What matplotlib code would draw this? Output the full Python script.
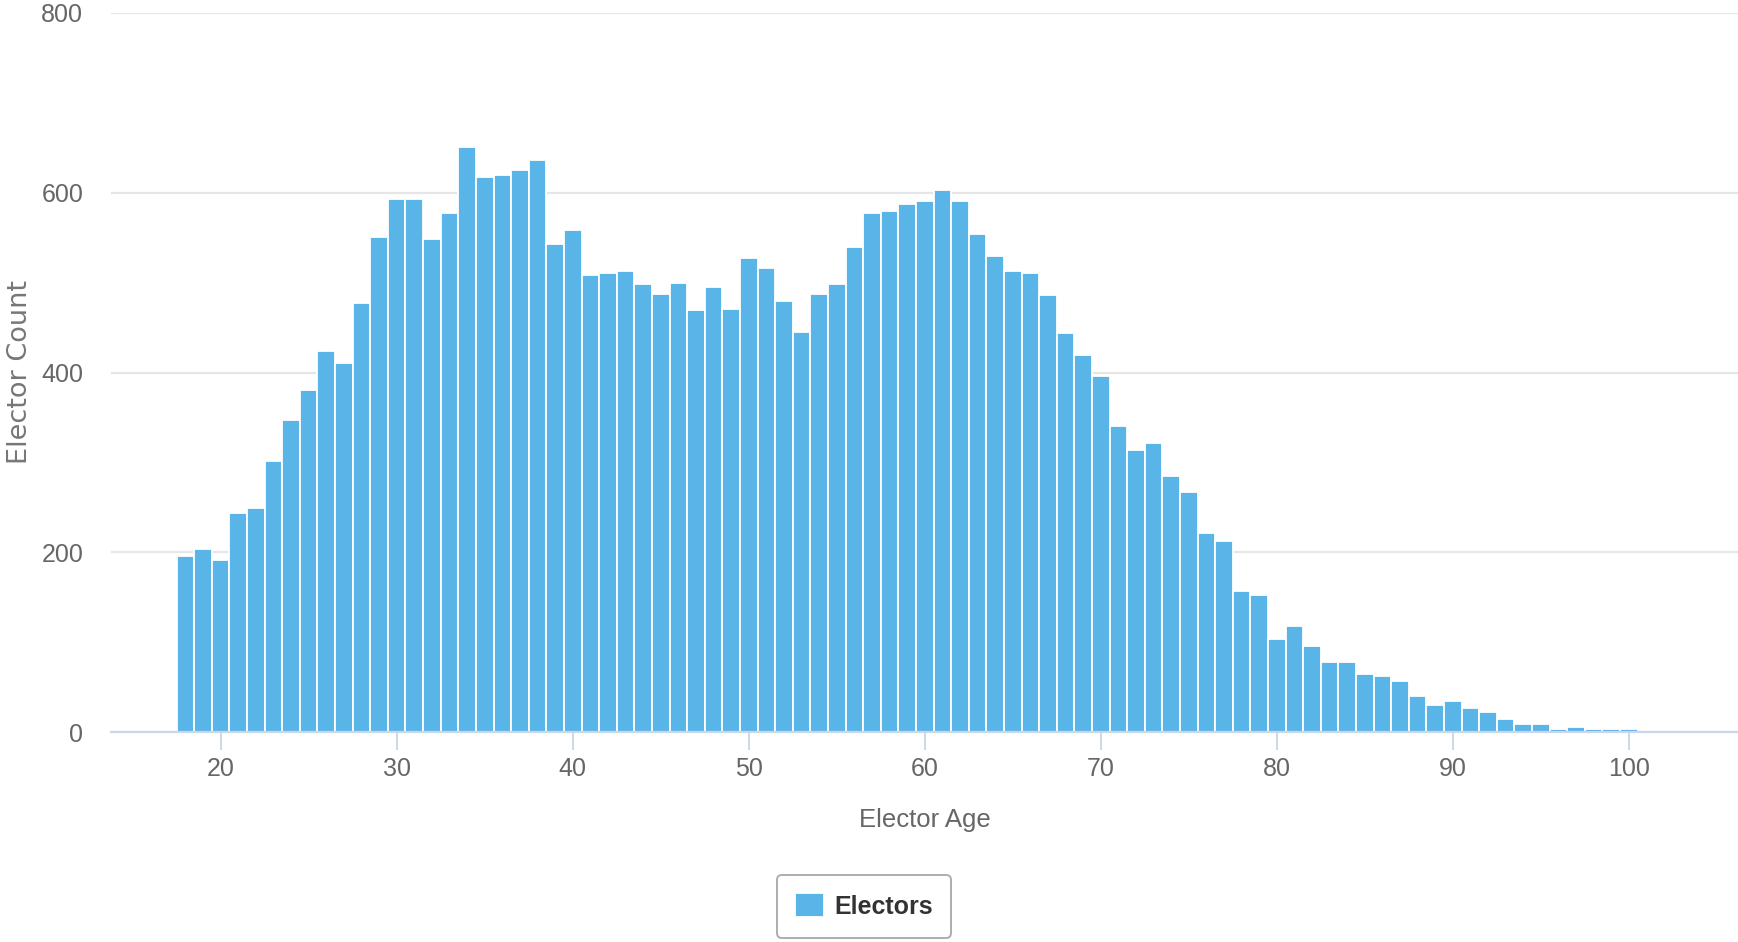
import matplotlib
matplotlib.use("Agg")
import matplotlib.pyplot as plt
import numpy as np

plt.rcParams['font.family'] = ['Liberation Sans Narrow', 'Liberation Sans', 'DejaVu Sans']

# elector counts per single year of age
ages = list(range(18, 101))
counts = [196, 204, 191, 244, 249, 302, 347, 380, 424, 411,
          477, 551, 593, 593, 548, 577, 651, 617, 620, 625,
          636, 543, 559, 508, 511, 513, 498, 487, 500, 469,
          495, 471, 527, 516, 479, 445, 487, 498, 540, 577,
          580, 588, 591, 603, 591, 554, 530, 513, 511, 486,
          444, 420, 396, 341, 314, 322, 285, 267, 221, 213,
          157, 152, 104, 118, 96, 78, 78, 64, 62, 57,
          40, 30, 35, 27, 22, 14, 9, 9, 3, 6,
          3, 3, 3]
xticks = [20, 30, 40, 50, 60, 70, 80, 90, 100]
yticks = [0, 200, 400, 600, 800]

BAR_COLOR = "#59b4e7"
AXIS_COLOR = "#ccd6eb"
GRID_COLOR = "#e6e6e6"
LABEL_COLOR = "#666666"

W, H = 1738, 942
fig = plt.figure(figsize=(W / 100, H / 100), dpi=100)
ax = fig.add_axes([111 / W, 1 - 732 / H, (W - 111) / W, (732 - 13) / H])

ax.bar(ages, counts, width=1.0, color=BAR_COLOR, edgecolor="white",
       linewidth=1.3, label="Electors", zorder=2)

ax.set_xlim(13.77, 106.2)
ax.set_ylim(0, 800)
ax.set_xticks(xticks)
ax.set_yticks(yticks)

ax.set_axisbelow(True)
ax.yaxis.grid(True, color=GRID_COLOR, linewidth=1.6)
ax.xaxis.grid(False)

for side in ["top", "right", "left"]:
    ax.spines[side].set_visible(False)
ax.spines["bottom"].set_color(AXIS_COLOR)
ax.spines["bottom"].set_linewidth(1.6)
ax.spines["bottom"].set_zorder(3)

ax.tick_params(axis="x", length=13, width=1.4, color=AXIS_COLOR,
               labelsize=18, labelcolor=LABEL_COLOR, pad=5)
ax.tick_params(axis="y", length=0, labelsize=18, labelcolor=LABEL_COLOR, pad=20)

ax.set_xlabel("Elector Age", fontsize=18.5, color=LABEL_COLOR)
ax.xaxis.set_label_coords(0.5, -0.106)
ax.set_ylabel("Elector Count", fontsize=19.5, color="#777777",
              family="DejaVu Sans")
ax.yaxis.set_label_coords(-0.048, 0.5)

leg = fig.legend(loc="center", bbox_to_anchor=(864 / W, 1 - 906 / H),
                 fontsize=18, frameon=True, fancybox=True,
                 handlelength=1.15, handleheight=1.1, handletextpad=0.4,
                 borderpad=0.75)
leg.get_frame().set_edgecolor("#999999")
leg.get_frame().set_linewidth(1.4)
for t in leg.get_texts():
    t.set_color("#333333")
    t.set_fontweight("bold")

fig.savefig("out.png", dpi=100)
